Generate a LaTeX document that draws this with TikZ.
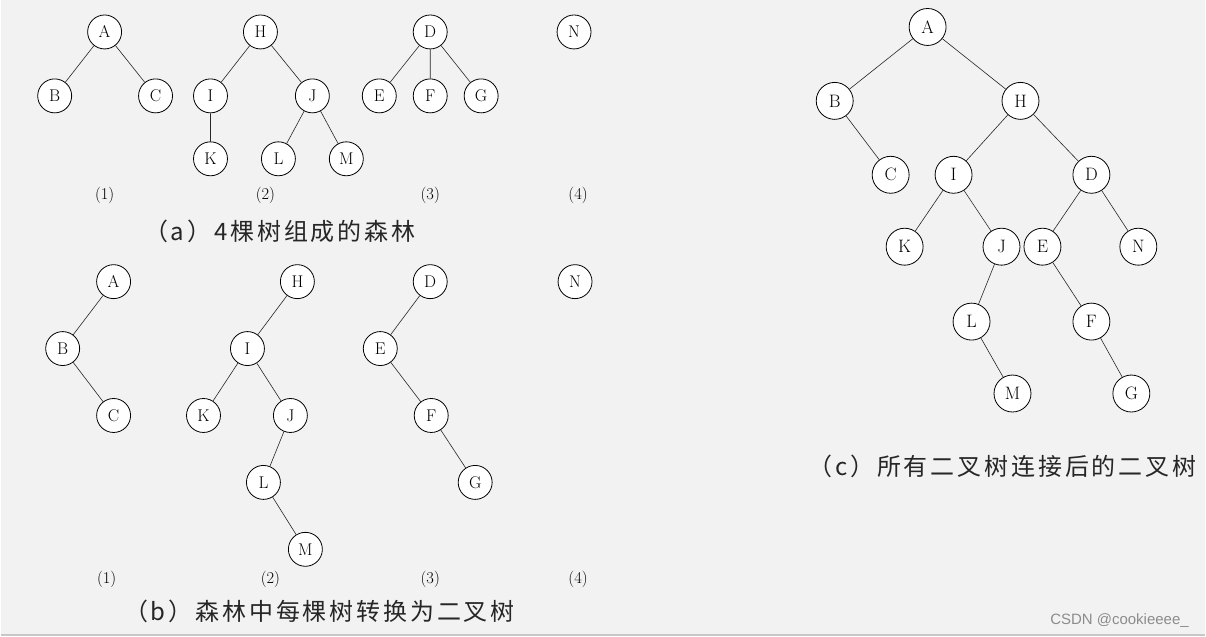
\documentclass[tikz,border=0pt]{standalone}
\usepackage{fontspec}
\newfontfamily\cjk[LetterSpace=12]{Noto Sans CJK SC}
\newfontfamily\wm{Liberation Sans}
\begin{document}
\begin{tikzpicture}[x=1pt,y=-1pt,
  nd/.style={circle,draw=black,fill=white,line width=0.8pt,minimum size=34pt,inner sep=0pt,font=\fontsize{17}{17}\selectfont},
  ndc/.style={nd,minimum size=37pt,font=\fontsize{18}{18}\selectfont},
  lbl/.style={font=\fontsize{16.5}{16.5}\selectfont},
  captext/.style={font=\cjk\fontsize{24}{24}\selectfont,text=black!85},
  edge/.style={line width=0.6pt,draw=black!85}]
\fill[black!5] (0,0) rectangle (1206,637);
\draw[black!22,line width=1.5pt] (0,636) -- (1206,636);
\useasboundingbox (0,0) rectangle (1206,637);
% (a)
\node[nd] (aA) at (104,32) {A};
\node[nd] (aB) at (54,96) {B};
\node[nd] (aC) at (155,96) {C};
\node[nd] (aH) at (260,32) {H};
\node[nd] (aI) at (210,96) {I};
\node[nd] (aJ) at (312,96) {J};
\node[nd] (aK) at (210,159) {K};
\node[nd] (aL) at (278,159) {L};
\node[nd] (aM) at (346,159) {M};
\node[nd] (aD) at (430,32) {D};
\node[nd] (aE) at (379,96) {E};
\node[nd] (aF) at (430,96) {F};
\node[nd] (aG) at (481,96) {G};
\node[nd] (aN) at (574,32) {N};
\draw[edge] (aA)--(aB) (aA)--(aC) (aH)--(aI) (aH)--(aJ) (aI)--(aK) (aJ)--(aL) (aJ)--(aM) (aD)--(aE) (aD)--(aF) (aD)--(aG);
\node[lbl] (la1) at (104,196) {(1)};
\node[lbl] (la2) at (265,196) {(2)};
\node[lbl] (la3) at (430,196) {(3)};
\node[lbl] (la4) at (578,196) {(4)};
\node[captext,anchor=west] (capa) at (140,232) {（a）4棵树组成的森林};
% (b)
\node[nd] (bA) at (113,282) {A};
\node[nd] (bB) at (62,349) {B};
\node[nd] (bC) at (113,416) {C};
\node[nd] (bH) at (297,282) {H};
\node[nd] (bI) at (247,349) {I};
\node[nd] (bK) at (203,416) {K};
\node[nd] (bJ) at (290,416) {J};
\node[nd] (bL) at (263,483) {L};
\node[nd] (bM) at (305,550) {M};
\node[nd] (bD) at (430,282) {D};
\node[nd] (bE) at (380,349) {E};
\node[nd] (bF) at (431,416) {F};
\node[nd] (bG) at (475,483) {G};
\node[nd] (bN) at (575,282) {N};
\draw[edge] (bA)--(bB) (bB)--(bC) (bH)--(bI) (bI)--(bK) (bI)--(bJ) (bJ)--(bL) (bL)--(bM) (bD)--(bE) (bE)--(bF) (bF)--(bG);
\node[lbl] (lb1) at (106,580) {(1)};
\node[lbl] (lb2) at (270,580) {(2)};
\node[lbl] (lb3) at (430,580) {(3)};
\node[lbl] (lb4) at (578,580) {(4)};
\node[captext,anchor=west] (capb) at (120,612) {（b）森林中每棵树转换为二叉树};
% (c)
\node[ndc] (cA) at (928,27) {A};
\node[ndc] (cB) at (835,101) {B};
\node[ndc] (cH) at (1021,101) {H};
\node[ndc] (cC) at (891,175) {C};
\node[ndc] (cI) at (954,175) {I};
\node[ndc] (cD) at (1092,175) {D};
\node[ndc] (cK) at (905,247) {K};
\node[ndc] (cJ) at (1002,247) {J};
\node[ndc] (cE) at (1043,247) {E};
\node[ndc] (cN) at (1139,247) {N};
\node[ndc] (cL) at (972,322) {L};
\node[ndc] (cF) at (1092,322) {F};
\node[ndc] (cM) at (1013,394) {M};
\node[ndc] (cG) at (1132,394) {G};
\draw[edge] (cA)--(cB) (cA)--(cH) (cB)--(cC) (cH)--(cI) (cH)--(cD) (cI)--(cK) (cI)--(cJ) (cD)--(cE) (cD)--(cN) (cJ)--(cL) (cL)--(cM) (cE)--(cF) (cF)--(cG);
\node[captext,anchor=west] (capc) at (805,467) {（c）所有二叉树连接后的二叉树};
\node[font=\wm\fontsize{15}{15}\selectfont,text=black!45,anchor=east] (wm) at (1193,621) {CSDN @cookieeee\_};
\end{tikzpicture}
\end{document}
